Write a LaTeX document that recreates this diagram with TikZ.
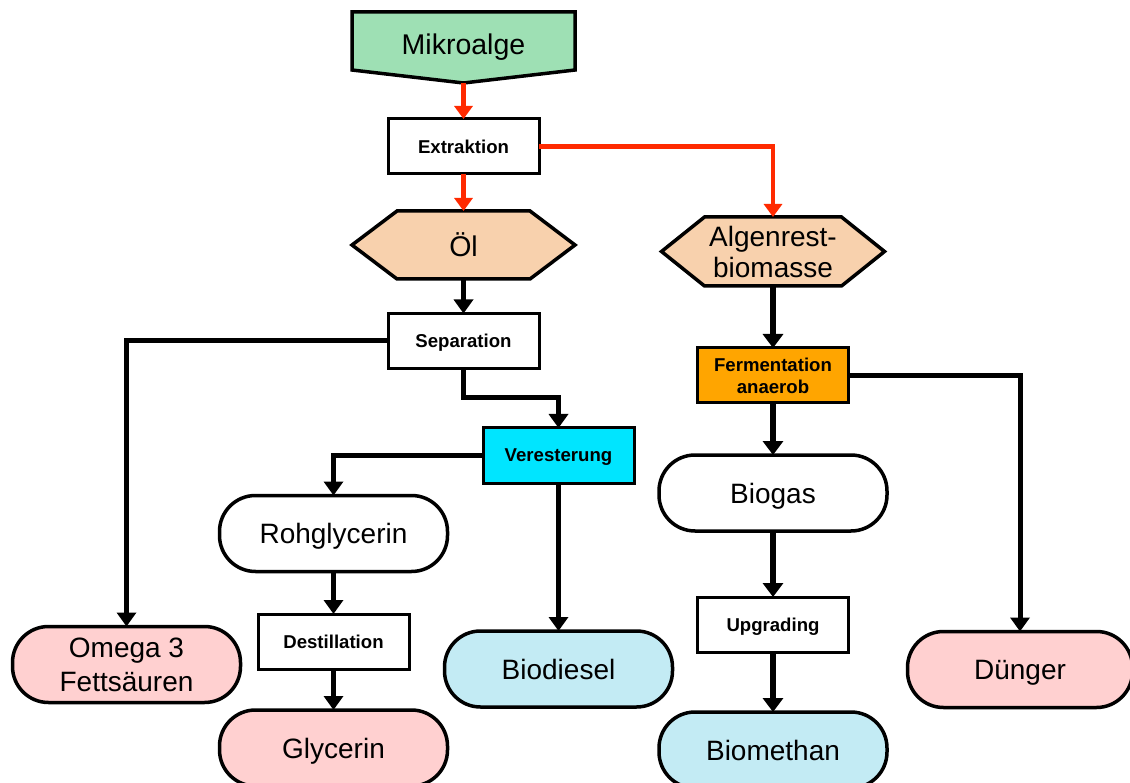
\documentclass[tikz,border=0pt]{standalone}
\usepackage{fontspec}
\setmainfont{Liberation Sans}
\usetikzlibrary{arrows.meta}
\definecolor{mgreen}{HTML}{9EE0B4}
\definecolor{peach}{HTML}{F8D1AD}
\definecolor{pinkf}{HTML}{FFD0D0}
\definecolor{lblue}{HTML}{C3EBF4}
\definecolor{cyanf}{HTML}{00E5FF}
\definecolor{orangef}{HTML}{FFA500}
\definecolor{redl}{HTML}{FF2A00}
\tikzset{
  proc/.style={rectangle, draw, line width=3pt, fill=white, minimum width=151pt, minimum height=55pt, inner sep=0pt, outer sep=0pt, align=center, text depth=0pt, font=\fontsize{18.6}{22}\selectfont\bfseries},
  term/.style={rectangle, draw, line width=3.5pt, rounded corners=36pt, minimum width=228pt, minimum height=76pt, inner sep=0pt, outer sep=0pt, align=center, text depth=0pt, font=\fontsize{28}{34}\selectfont},
  hexn/.style={rectangle, draw=none, minimum width=223pt, minimum height=68pt, inner sep=0pt, outer sep=0pt},
  bigtext/.style={align=center, text depth=0pt, inner sep=0pt, font=\fontsize{28.5}{31}\selectfont},
  shapeline/.style={draw, line width=3.5pt, line join=miter},
  blk/.style={line width=5pt, -{Triangle[length=14pt,width=19pt]}},
  blkthick/.style={line width=6pt, -{Triangle[length=14pt,width=20pt]}},
  redarrow/.style={line width=4.5pt, draw=redl, -{Triangle[length=13pt,width=18pt]}}
}
\begin{document}
\begin{tikzpicture}[x=1pt,y=-1pt]
\useasboundingbox (0,0) rectangle (1130,783);
\clip (0,0) rectangle (1130,783);
\fill[white] (0,0) rectangle (1130,783);

% Mikroalge
\node[hexn, minimum height=58pt] (mikro) at (463.5,41) {};
\coordinate (mikrotip) at (463.5,83);
\path[shapeline, fill=mgreen] (mikro.north west) -- (mikro.north east) -- (mikro.south east) -- (mikrotip) -- (mikro.south west) -- cycle;
\node[bigtext] (mikrotext) at (463.5,44) {Mikroalge};

% Öl
\node[hexn] (oel) at (463.5,245) {};
\path[shapeline, fill=peach] (oel.west) -- ([xshift=45pt]oel.north west) -- ([xshift=-45pt]oel.north east) -- (oel.east) -- ([xshift=-45pt]oel.south east) -- ([xshift=45pt]oel.south west) -- cycle;
\node[bigtext] (oeltext) at (oel.center) {Öl};

% Algenrest
\node[hexn, minimum height=69pt] (algen) at (773,251.5) {};
\path[shapeline, fill=peach] (algen.west) -- ([xshift=43pt]algen.north west) -- ([xshift=-43pt]algen.north east) -- (algen.east) -- ([xshift=-43pt]algen.south east) -- ([xshift=43pt]algen.south west) -- cycle;
\node[bigtext, font=\fontsize{28}{31}\selectfont] (algentext) at (algen.center) {Algenrest-\\biomasse};

% Process boxes
\node[proc] (extr) at (463.5,146.5) {Extraktion};
\node[proc] (sep) at (463.5,341) {Separation};
\node[proc, fill=cyanf] (ver) at (558.5,455.5) {Veresterung};
\node[proc, fill=orangef] (ferm) at (773,375.5) {Fermentation\\anaerob};
\node[proc] (dest) at (333.5,641.5) {Destillation};
\node[proc] (upg) at (773,624.5) {Upgrading};

% Terminals
\node[term, fill=white] (rohg) at (333.5,533.5) {Rohglycerin};
\node[term, fill=pinkf] (glyc) at (333.5,748) {Glycerin};
\node[term, fill=pinkf] (omega) at (126.5,664.5) {Omega 3\\Fettsäuren};
\node[term, fill=lblue] (biod) at (558.5,669) {Biodiesel};
\node[term, fill=white] (biog) at (773,493) {Biogas};
\node[term, fill=lblue] (biom) at (773,750) {Biomethan};
\node[term, fill=pinkf, minimum width=225pt] (dung) at (1020,669.5) {Dünger};

% Red connectors
\draw[redarrow] (mikrotip) -- (extr.north);
\draw[redarrow] (extr.south) -- (oel.north);
\draw[redarrow] (extr.east) -| (algen.north);

% Black connectors
\draw[blk] (oel.south) -- (sep.north);
\draw[blk] (sep.west) -| (omega.north);
\coordinate (sepbend) at (463.5,398);
\draw[blk] (sep.south) -- (sepbend) -| (ver.north);
\draw[blk] (ver.west) -| (rohg.north);
\draw[blk] (ver.south) -- (biod.north);
\draw[blk] (rohg.south) -- (dest.north);
\draw[blk] (dest.south) -- (glyc.north);
\draw[blkthick] (algen.south) -- (ferm.north);
\draw[blk] (ferm.east) -| (dung.north);
\draw[blkthick] (ferm.south) -- (biog.north);
\draw[blkthick] (biog.south) -- (upg.north);
\draw[blkthick] (upg.south) -- (biom.north);
\end{tikzpicture}
\end{document}
